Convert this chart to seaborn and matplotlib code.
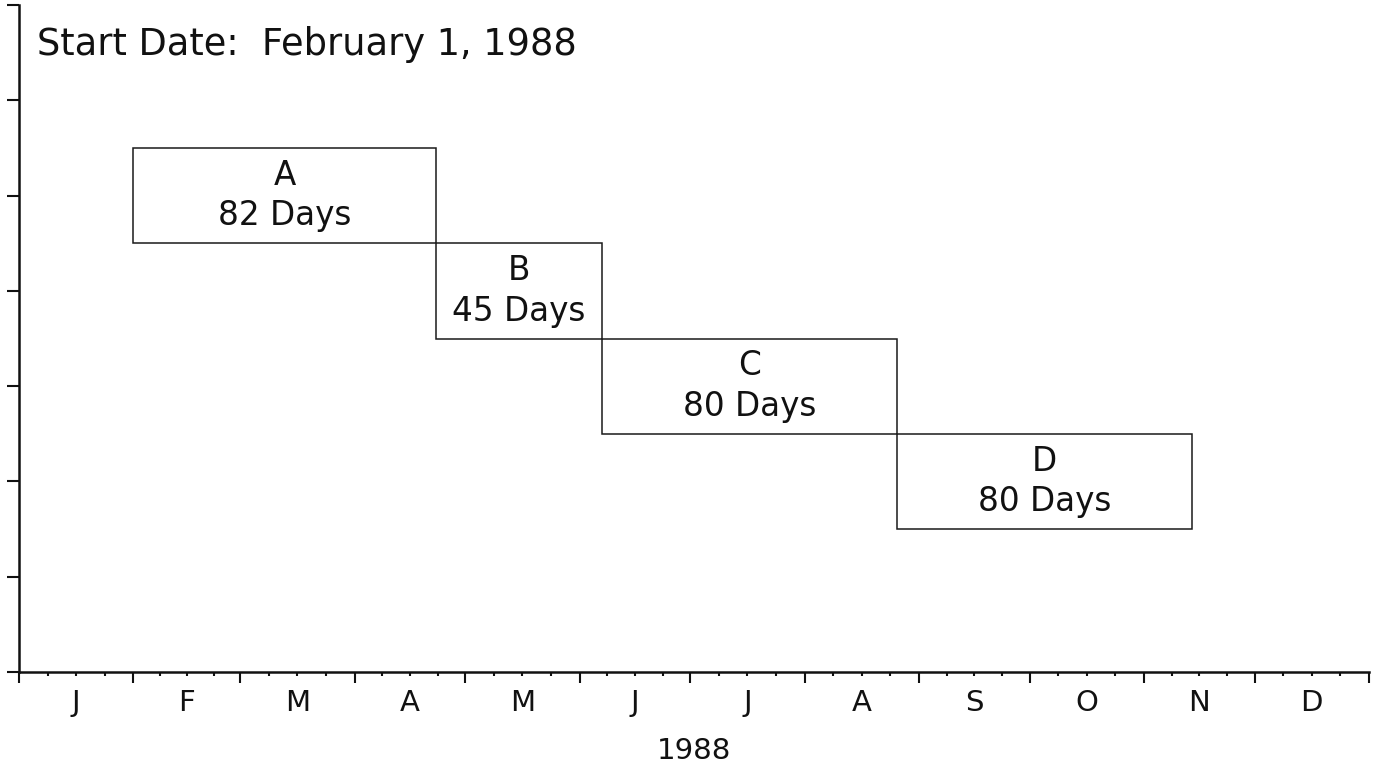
import numpy as np
import matplotlib
matplotlib.use("Agg")
import matplotlib.pyplot as plt
import matplotlib.transforms as mtransforms
import seaborn as sns

# schedule data
tasks = ["A", "B", "C", "D"]
durations = [82, 45, 80, 80]
start_day = 31  # February 1, 1988 (day of year, 0-based)
rows = [5, 4, 3, 2]

month_letters = ["J", "F", "M", "A", "M", "J", "J", "A", "S", "O", "N", "D"]
month_days = [31, 29, 31, 30, 31, 30, 31, 31, 30, 31, 30, 31]

sns.set_theme(style="ticks")
plt.rcParams["font.family"] = ["DejaVu Sans"]

fig = plt.figure(figsize=(13.73, 7.71), dpi=100)
ax = fig.add_axes([19 / 1373, 99 / 771, 1350 / 1373, 667 / 771])

lefts = np.cumsum([start_day] + durations[:-1])
ax.barh(rows, durations, left=lefts, height=1.0, fill=False,
        edgecolor="#1a1a1a", linewidth=1.1)

for t, d, l, r in zip(tasks, durations, lefts, rows):
    ax.text(l + d / 2, r, f"{t}\n{d} Days", ha="center", va="center",
            fontsize=23.5, linespacing=1.3, color="#111111")

bounds = np.concatenate([[0], np.cumsum(month_days)])
ax.set_xlim(0, bounds[-1])
ax.set_ylim(0, 7)

ax.set_xticks(bounds)
ax.set_xticklabels([])
minor = []
for a, b in zip(bounds[:-1], bounds[1:]):
    minor += list(a + (b - a) * np.array([0.25, 0.5, 0.75]))
ax.set_xticks(minor, minor=True)
ax.set_yticks(range(0, 8))
ax.set_yticklabels([])

ax.tick_params(axis="x", which="major", direction="out", length=8, width=1.5, color="#111111")
ax.tick_params(axis="x", which="minor", direction="out", length=3, width=1.5, color="#111111")
ax.tick_params(axis="y", which="major", direction="out", length=9, width=1.5, color="#111111")

trans = mtransforms.blended_transform_factory(ax.transData, ax.transAxes)
mids = (bounds[:-1] + bounds[1:]) / 2
for m, lab in zip(mids, month_letters):
    ax.text(m, -0.047, lab, transform=trans, ha="center", va="center",
            fontsize=21, color="#111111")

ax.text(0.5, -0.118, "1988", transform=ax.transAxes, ha="center", va="center",
        fontsize=21, color="#111111")

sns.despine(ax=ax, top=True, right=True)
ax.spines["left"].set_linewidth(1.8)
ax.spines["bottom"].set_linewidth(1.8)
ax.spines["left"].set_color("#111111")
ax.spines["bottom"].set_color("#111111")

fig.text(37 / 1373, 1 - 55 / 771, "Start Date:  February 1, 1988",
         ha="left", va="baseline", fontsize=26.5, color="#111111")

fig.savefig("out.png", dpi=100, facecolor="white")
